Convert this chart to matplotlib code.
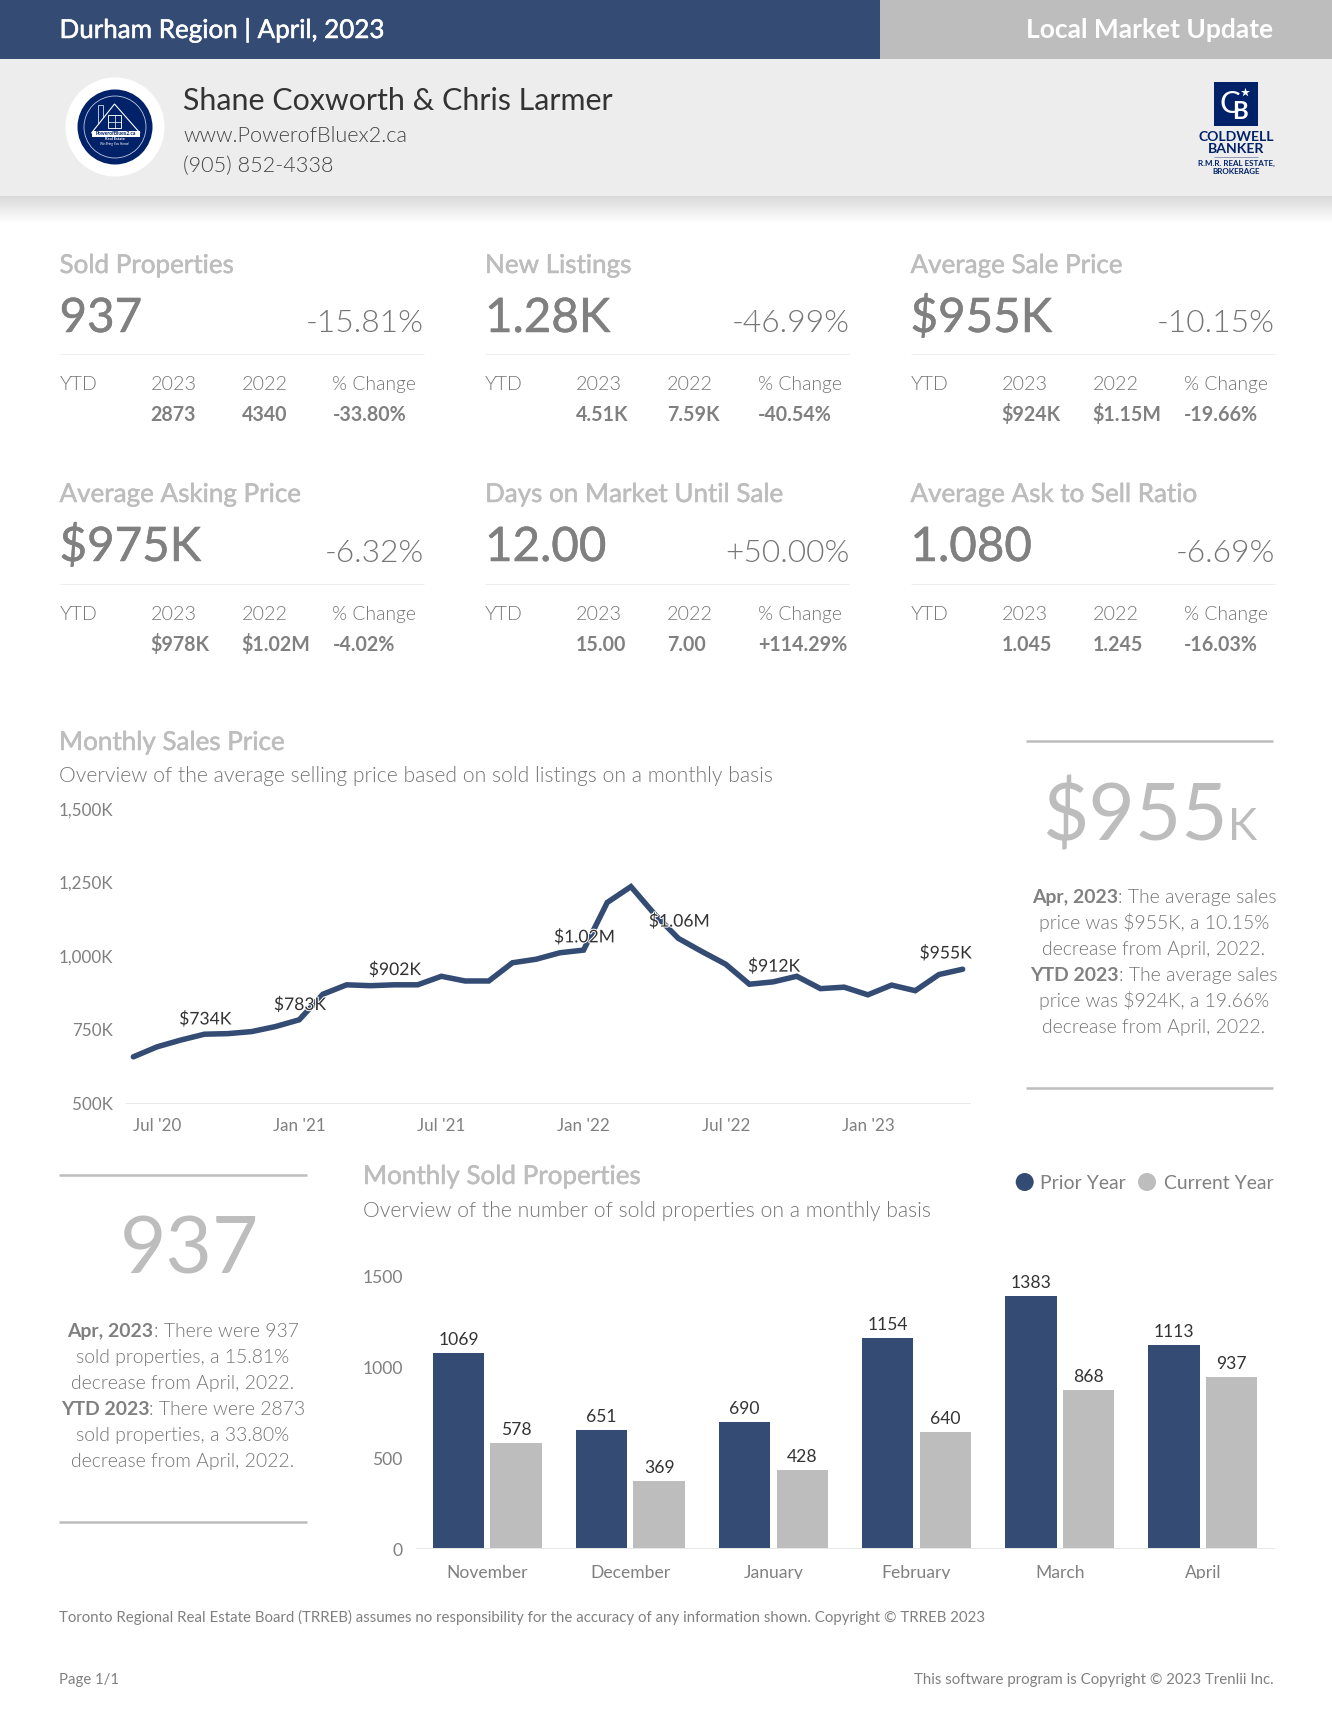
import matplotlib
matplotlib.use('Agg')
import numpy as np
import matplotlib.pyplot as plt
import matplotlib.patheffects as pe
from matplotlib.patches import Rectangle, Circle, Polygon
from matplotlib.transforms import Bbox, ScaledTranslation

W, H = 1332, 1728
plt.rcParams['font.family'] = ['Lato', 'DejaVu Sans']

NAVY = '#344c74'
GRAY = '#bdbdbd'
TXT = '#808080'
LIGHT = '#757575'
DARK = '#333333'
LOGO = '#012169'

# ---------- data ----------
kpi_titles = ['Sold Properties', 'New Listings', 'Average Sale Price',
              'Average Asking Price', 'Days on Market Until Sale', 'Average Ask to Sell Ratio']
kpi_values = ['937', '1.28K', '$955K', '$975K', '12.00', '1.080']
kpi_changes = ['-15.81%', '-46.99%', '-10.15%', '-6.32%', '+50.00%', '-6.69%']
ytd_2023 = ['2873', '4.51K', '$924K', '$978K', '15.00', '1.045']
ytd_2022 = ['4340', '7.59K', '$1.15M', '$1.02M', '7.00', '1.245']
ytd_change = ['-33.80%', '-40.54%', '-19.66%', '-4.02%', '+114.29%', '-16.03%']

price_values = [657, 691, 714, 734, 736, 743, 760, 783, 870, 902, 899, 902,
                902, 931, 915, 915, 977, 989, 1011, 1020, 1182, 1236, 1142, 1060,
                1015, 972, 904, 912, 931, 889, 894, 868, 901, 882, 937, 955]
price_label_idx = [3, 7, 11, 19, 23, 27, 35]
price_labels = ['$734K', '$783K', '$902K', '$1.02M', '$1.06M', '$912K', '$955K']
price_tick_idx = [1, 7, 13, 19, 25, 31]
price_tick_labels = ["Jul '20", "Jan '21", "Jul '21", "Jan '22", "Jul '22", "Jan '23"]
price_y_ticks = [500, 750, 1000, 1250, 1500]
price_y_labels = ['500K', '750K', '1,000K', '1,250K', '1,500K']

months = ['November', 'December', 'January', 'February', 'March', 'April']
prior_year = [1069, 651, 690, 1154, 1383, 1113]
current_year = [578, 369, 428, 640, 868, 937]
sold_y_ticks = [0, 500, 1000, 1500]

label_rise = [15, 15, 15, 13, 17, 15.5, 16]

# ---------- figure ----------
fig = plt.figure(figsize=(W / 72, H / 72), dpi=72, facecolor='white')
bg = fig.add_axes([0, 0, 1, 1], zorder=0)
bg.set_xlim(0, W)
bg.set_ylim(H, 0)
bg.axis('off')


def T(x, y, s, size, color=TXT, weight='normal', ha='left', faux=0, **kw):
    t = bg.text(x, y, s, fontsize=size, color=color, fontweight=weight,
                ha=ha, va='baseline', **kw)
    if faux:
        t.set_path_effects([pe.withStroke(linewidth=faux, foreground=color)])
    return t


def rule(x0, x1, y, color='#eeeeee', lw=1.0):
    bg.plot([x0, x1], [y, y], color=color, lw=lw, solid_capstyle='butt')


def rich_center(parts, cx, y, size):
    r = fig.canvas.get_renderer()
    items = []
    for s, w, c in parts:
        items.append(T(0, y, s, size, weight=w, color=c))
    widths = []
    for s, w, c in parts:
        g = bg.text(0, 0, s + '|', fontsize=size, fontweight=w)
        g2 = bg.text(0, 0, '|', fontsize=size, fontweight=w)
        widths.append(g.get_window_extent(r).width - g2.get_window_extent(r).width)
        g.remove()
        g2.remove()
    x = cx - sum(widths) / 2
    for t, wd in zip(items, widths):
        t.set_x(x)
        x += wd


# header
bg.add_patch(Rectangle((0, 0), 880, 59, color=NAVY, lw=0))
bg.add_patch(Rectangle((880, 0), W - 880, 59, color=GRAY, lw=0))
bg.add_patch(Rectangle((0, 59), W, 137, color='#ededed', lw=0))
grad = np.linspace(0.82, 1.0, 64).reshape(-1, 1) ** 0.8
bg.imshow(grad, extent=(0, W, 224, 196), cmap='gray', vmin=0, vmax=1, aspect='auto', zorder=0.5)
bg.set_xlim(0, W)
bg.set_ylim(H, 0)

T(59.5, 38, 'Durham Region | April, 2023', 26, color='white', faux=0.5)
T(1273.5, 38, 'Local Market Update', 26.4, color='white', weight='bold', ha='right')
T(183, 110, 'Shane Coxworth & Chris Larmer', 30.4, color=DARK)
T(183, 142, 'www.PowerofBluex2.ca', 21.6, color='#444444', weight=300)
T(183, 172, '(905) 852-4338', 21.6, color='#444444', weight=300)

# left logo
bg.add_patch(Circle((115, 127), 49.5, color='white', lw=0))
bg.add_patch(Circle((115, 127), 37.5, color=LOGO, lw=0))
bg.add_patch(Circle((115, 127), 31, fill=False, ec='#c8d0e4', lw=0.8))
bg.add_patch(Rectangle((98, 105), 5, 18, fill=False, ec='white', lw=0.7))
bg.add_patch(Polygon([[114.5, 104], [91.5, 133], [140, 133]], closed=True, fc=LOGO, ec='white', lw=1.1, zorder=3))
bg.add_patch(Rectangle((108, 115), 13, 13, fill=False, ec='white', lw=0.9, zorder=3))
bg.plot([114.5, 114.5], [115, 128], color='white', lw=0.7, zorder=3)
bg.plot([108, 121], [121.5, 121.5], color='white', lw=0.7, zorder=3)
bg.add_patch(Rectangle((91.5, 131), 48.5, 5.5, color='white', lw=0, zorder=3))
bg.text(115.5, 133.7, 'PowerofBluex2.ca', fontsize=5, fontweight='bold', color=LOGO, ha='center', va='center', zorder=4)
bg.text(115, 138.5, 'Real Estate', fontsize=4, fontweight='bold', color='white', ha='center', va='center')
bg.text(115, 144, 'We Bring You Home!', fontsize=3.4, style='italic', color='white', ha='center', va='center')

# right logo
bg.add_patch(Rectangle((1214, 82), 44, 44, color=LOGO, lw=0))
T(1230, 113, 'C', 31, color='white', ha='center')
T(1240, 119, 'B', 24, color='white', ha='center', weight='bold')
bg.scatter([1245], [92], marker='*', s=90, color='white', lw=0, zorder=3)
T(1236.5, 141, 'COLDWELL', 14, color=LOGO, weight='bold', ha='center')
T(1236.5, 153, 'BANKER', 14, color=LOGO, weight='bold', ha='center')
rule(1214, 1258, 157, color='#7c8ab0', lw=0.8)
T(1236.5, 166, 'R.M.R. REAL ESTATE,', 8, color=LOGO, weight='bold', ha='center')
T(1236.5, 173.5, 'BROKERAGE', 8, color=LOGO, weight='bold', ha='center')

# KPI grid
col_x = [59.5, 485, 910.5]
row_dy = [0, 229]
for i in range(6):
    x = col_x[i % 3]
    dy = row_dy[i // 3]
    T(x, 273 + dy, kpi_titles[i], 26, color=GRAY, faux=0.5)
    T(x, 332 + dy, kpi_values[i], 47.5, faux=0.5)
    T(x + 364.5, 332.5 + dy, kpi_changes[i], 31.8, color=LIGHT, weight=300, ha='right')
    dy = dy + 1 if dy else 0
    rule(x, x + 364, 354 + dy)
    T(x, 390 + dy, 'YTD', 19.6, color=LIGHT, weight=300)
    T(x + 91, 390 + dy, '2023', 19.8, color=LIGHT, weight=300)
    T(x + 182, 390 + dy, '2022', 19.8, color=LIGHT, weight=300)
    T(x + 273, 390 + dy, '% Change', 19.3, color=LIGHT, weight=300)
    T(x + 91, 421 + dy, ytd_2023[i], 19.6, weight='bold')
    T(x + 182, 421 + dy, ytd_2022[i], 19.6, weight='bold')
    T(x + 273, 421 + dy, ytd_change[i], 19.6, weight='bold')

# section headings
T(59, 750, 'Monthly Sales Price', 26, color=GRAY, faux=0.5)
T(59, 782.5, 'Overview of the average selling price based on sold listings on a monthly basis',
  21.15, color=LIGHT, weight=300)
T(363, 1184, 'Monthly Sold Properties', 26, color=GRAY, faux=0.5)
T(363, 1217, 'Overview of the number of sold properties on a monthly basis',
  21.15, color=LIGHT, weight=300)

# right panel
rule(1026, 1273, 741, color=GRAY, lw=2.5)
rule(1026, 1273, 1088, color=GRAY, lw=2.5)
T(1042, 840, '$955', 80, color=GRAY)
T(1228, 840, 'K', 44, color=GRAY)
rich_center([('Apr, 2023', 'bold', TXT), (': The average sales', 300, LIGHT)], 1154, 903, 19.4)
T(1154, 929, 'price was $955K, a 10.15%', 19.4, color=LIGHT, weight=300, ha='center')
T(1154, 955, 'decrease from April, 2022.', 19.4, color=LIGHT, weight=300, ha='center')
rich_center([('YTD 2023', 'bold', TXT), (': The average sales', 300, LIGHT)], 1154, 981, 19.4)
T(1154, 1007, 'price was $924K, a 19.66%', 19.4, color=LIGHT, weight=300, ha='center')
T(1154, 1033, 'decrease from April, 2022.', 19.4, color=LIGHT, weight=300, ha='center')

# left panel
rule(59, 307, 1174.5, color=GRAY, lw=2.5)
rule(59, 307, 1521.5, color=GRAY, lw=2.5)
T(189.5, 1274, '937', 80, color=GRAY, ha='center')
rich_center([('Apr, 2023', 'bold', TXT), (': There were 937', 300, LIGHT)], 183, 1337, 19.4)
T(183, 1363, 'sold properties, a 15.81%', 19.4, color=LIGHT, weight=300, ha='center')
T(183, 1389, 'decrease from April, 2022.', 19.4, color=LIGHT, weight=300, ha='center')
rich_center([('YTD 2023', 'bold', TXT), (': There were 2873', 300, LIGHT)], 183, 1415, 19.4)
T(183, 1441, 'sold properties, a 33.80%', 19.4, color=LIGHT, weight=300, ha='center')
T(183, 1467, 'decrease from April, 2022.', 19.4, color=LIGHT, weight=300, ha='center')

# legend
bg.add_patch(Circle((1024.7, 1182), 9, color=NAVY, lw=0))
bg.add_patch(Circle((1147, 1182), 9, color=GRAY, lw=0))
T(1040.5, 1189, 'Prior Year', 19.4)
T(1273.5, 1189, 'Current Year', 19.4, ha='right')

# footer
T(59, 1622, 'Toronto Regional Real Estate Board (TRREB) assumes no responsibility for the accuracy of any information shown. Copyright © TRREB 2023', 15.05)
T(59, 1684, 'Page 1/1', 14.9)
T(1273.5, 1684, 'This software program is Copyright © 2023 Trenlii Inc.', 15, ha='right')


def add_ax(x0, x1, y_top, y_bottom):
    ax = fig.add_axes([x0 / W, 1 - y_bottom / H, (x1 - x0) / W, (y_bottom - y_top) / H], zorder=2)
    ax.patch.set_alpha(0)
    for s in ['top', 'left', 'right']:
        ax.spines[s].set_visible(False)
    ax.spines['bottom'].set_color('#e8e8e8')
    ax.spines['bottom'].set_linewidth(1)
    return ax


# line chart
ax = add_ax(126, 970, 809, 1103)
ax.plot(range(len(price_values)), price_values, color=NAVY, lw=5.5,
        solid_capstyle='round', solid_joinstyle='miter')
ax.set_xlim(-0.31, 35.31)
ax.set_ylim(500, 1500)
ax.set_yticks(price_y_ticks, price_y_labels)
ax.set_xticks(price_tick_idx, price_tick_labels)
ax.tick_params(axis='both', length=0, labelsize=17, labelcolor=TXT)
ax.tick_params(axis='y', pad=13)
ax.tick_params(axis='x', pad=15)
for i, lab, rise in zip(price_label_idx, price_labels, label_rise):
    dx = -17 if i == len(price_values) - 1 else 1
    ax.annotate(lab, (i, price_values[i]), xytext=(dx, rise), textcoords='offset points',
                ha='center', va='center', fontsize=17.5, color=DARK, zorder=5,
                annotation_clip=False,
                path_effects=[pe.withStroke(linewidth=2, foreground='white')])

# bar chart
ax2 = add_ax(415.7, 1274.3, 1275, 1548)
xs = np.arange(len(months))
bw = 0.3585
off = (bw + 0.044) / 2
b1 = ax2.bar(xs - off, prior_year, bw, color=NAVY)
b2 = ax2.bar(xs + off, current_year, bw, color=GRAY)
ax2.set_xlim(-0.5, len(months) - 0.5)
ax2.set_ylim(0, 1500)
ax2.set_yticks(sold_y_ticks)
ax2.set_xticks(xs, months)
ax2.tick_params(axis='both', length=0, labelsize=17.5, labelcolor=TXT)
ax2.tick_params(axis='y', pad=13)
ax2.tick_params(axis='x', pad=17)
for c in (b1, b2):
    ax2.bar_label(c, padding=5, fontsize=17.5, color=DARK)
nudge = ScaledTranslation(0, -1.5 / 72, fig.dpi_scale_trans)
for lab in ax2.get_yticklabels():
    lab.set_transform(lab.get_transform() + nudge)
clip = Bbox([[0, H - 1578.5], [W, H]])
for lab in ax2.get_xticklabels():
    lab.set_clip_box(clip)
    lab.set_clip_on(True)

fig.savefig('out.png', dpi=72, facecolor='white')
